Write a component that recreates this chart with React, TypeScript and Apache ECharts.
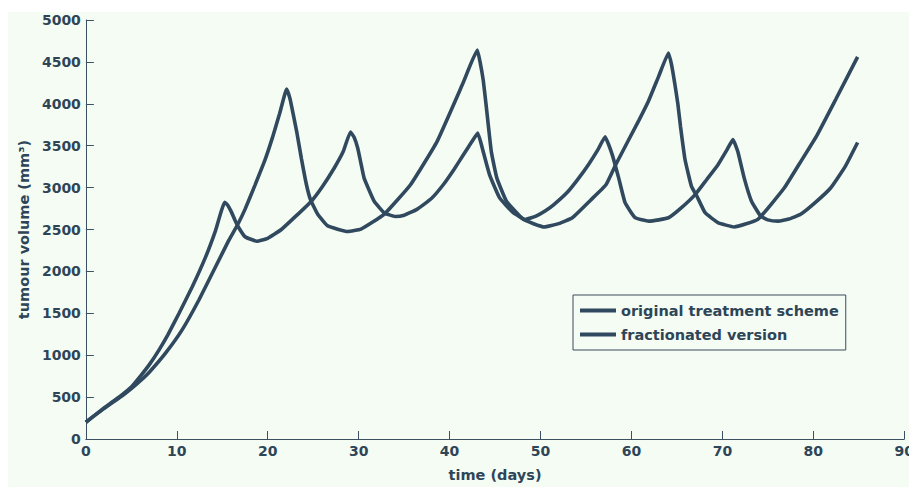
import React, { useEffect, useRef } from "react";
import * as echarts from "echarts";

const seriesNames = ["original treatment scheme", "fractionated version"];

// original scheme: peaks about every 21 days
const originalT = [0, 1, 2, 3, 4, 5, 6, 7, 8.8, 10.6, 12.43, 14.25, 15.7, 16.7, 17.5, 18.6, 19.7, 20.5, 21.3, 22.08,
  22.45, 22.85, 23.2, 23.7, 24.26, 24.7, 25.5, 26.6, 28.8, 30.25, 32.8, 35.7, 38.6, 41.5, 43.05,
  43.35, 43.7, 44.0, 44.3, 44.6, 45.2, 46.25, 48.1, 50.4, 52, 53.5, 55.5, 57.2, 58.25, 60.8, 61.9, 63, 64.07,
  64.4, 64.75, 65.1, 65.4, 65.9, 66.6, 67.2, 68.1, 69.5, 71.3, 73.9, 76.8, 78.5, 80.4, 82.5, 84.87];
const originalV = [200, 285, 365, 440, 515, 600, 695, 800, 1030, 1305, 1659, 2052, 2367, 2560, 2740, 3030, 3330, 3590, 3880, 4175,
  4060, 3850, 3660, 3349, 3034, 2857, 2681, 2543, 2476, 2504, 2681, 3034, 3546, 4253, 4640,
  4500, 4280, 4000, 3703, 3420, 3113, 2838, 2621, 2530, 2570, 2641, 2850, 3034, 3270, 3800, 4040, 4330, 4607,
  4470, 4250, 4000, 3723, 3329, 3015, 2897, 2700, 2582, 2530, 2621, 2995, 3290, 3624, 4060, 4560];

// fractionated version: peaks about every 14 days
const fractionT = [0, 1, 2, 3, 4, 5, 6, 7, 8, 9, 10.25, 11.7, 13.16, 14.25, 15.27,
  15.6, 16.0, 16.4, 16.8, 17.5, 18.8, 20.0, 21.5, 23.0, 24.8, 26.0, 27.3, 28.3, 29.1,
  29.5, 29.9, 30.25, 30.6, 31.7, 32.8, 34.0, 35.0, 36.4, 38.0, 39.3, 40.5, 41.5, 42.4, 43.1,
  43.7, 44.4, 45.5, 47.0, 48.3, 49.5, 50.5, 51.5, 53, 54.2, 55.3, 56.3, 57.1,
  57.9, 58.6, 59.3, 60.4, 61.9, 63, 64.1, 65.5, 67, 68.3, 69.5, 70.5, 71.16,
  71.7, 72.4, 73.2, 74.2, 75, 76.1, 77.3, 78.6, 80.2, 81.9, 83.5, 84.87];
const fractionV = [200, 285, 370, 450, 530, 620, 750, 890, 1055, 1240, 1501, 1816, 2170, 2484, 2825,
  2790, 2710, 2610, 2524, 2414, 2360, 2395, 2500, 2650, 2838, 3010, 3231, 3430, 3664,
  3600, 3470, 3290, 3113, 2838, 2700, 2655, 2670, 2740, 2870, 3034, 3220, 3388, 3540, 3650,
  3428, 3152, 2877, 2700, 2620, 2660, 2720, 2800, 2950, 3113, 3280, 3450, 3605,
  3388, 3113, 2820, 2641, 2600, 2615, 2641, 2760, 2916, 3100, 3270, 3450, 3573,
  3428, 3113, 2838, 2661, 2615, 2600, 2625, 2681, 2820, 2995, 3250, 3538];

const xTicks = { min: 0, max: 90, interval: 10 };
const yTicks = { min: 0, max: 5000, interval: 500 };

const INK = "#2e4558";
const LINE = "#30495e";
const BG = "#f5fcf3";
const FONT = "'DejaVu Sans', sans-serif";

export default function App() {
  const ref = useRef<HTMLDivElement>(null);
  useEffect(() => {
    if (!ref.current) return;
    const chart = echarts.init(ref.current, undefined, { renderer: "svg" });
    const zip = (t: number[], v: number[]) => t.map((x, i) => [x, v[i]]);
    const axisCommon = {
      axisLine: { show: true, lineStyle: { color: "#3d5062", width: 1 } },
      axisTick: { show: true, inside: true, length: 8, lineStyle: { color: "#3d5062", width: 1 } },
      splitLine: { show: false },
      axisLabel: {
        color: INK, fontFamily: FONT, fontWeight: "bold", fontSize: 14, margin: 5,
        formatter: (v: number) => String(v),
      },
      nameTextStyle: { color: INK, fontFamily: FONT, fontWeight: "bold", fontSize: 14.5 },
    };
    chart.setOption({
      animation: false,
      backgroundColor: BG,
      grid: { left: 74.7, right: 9.3, top: 8, bottom: 43, containLabel: false },
      xAxis: {
        type: "value",
        ...xTicks,
        ...axisCommon,
        name: "time (days)",
        nameLocation: "middle",
        nameGap: 28,
      },
      yAxis: {
        type: "value",
        ...yTicks,
        ...axisCommon,
        name: "tumour volume (mm³)",
        nameLocation: "middle",
        nameRotate: 90,
        nameGap: 50,
      },
      legend: {
        orient: "vertical",
        left: 565,
        top: 283,
        padding: [8, 7, 8, 7],
        itemGap: 9,
        itemWidth: 36,
        itemHeight: 14,
        icon: "path://M0,0L36,0L36,4L0,4Z",
        borderColor: "#3d4b5a",
        borderWidth: 1,
        data: seriesNames,
        itemStyle: { color: LINE },
        textStyle: { color: INK, fontFamily: FONT, fontWeight: "bold", fontSize: 14.5 },
      },
      series: [
        {
          name: seriesNames[0],
          type: "line",
          data: zip(originalT, originalV),
          symbol: "none",
          smooth: 0.12,
          lineStyle: { color: LINE, width: 3.6 },
          itemStyle: { color: LINE },
        },
        {
          name: seriesNames[1],
          type: "line",
          data: zip(fractionT, fractionV),
          symbol: "none",
          smooth: 0.12,
          lineStyle: { color: LINE, width: 3.6 },
          itemStyle: { color: LINE },
        },
      ],
    });
    return () => chart.dispose();
  }, []);
  return (
    <div style={{ paddingTop: 4 }}>
      <div ref={ref} style={{ width: 909, height: 475 }} />
    </div>
  );
}
